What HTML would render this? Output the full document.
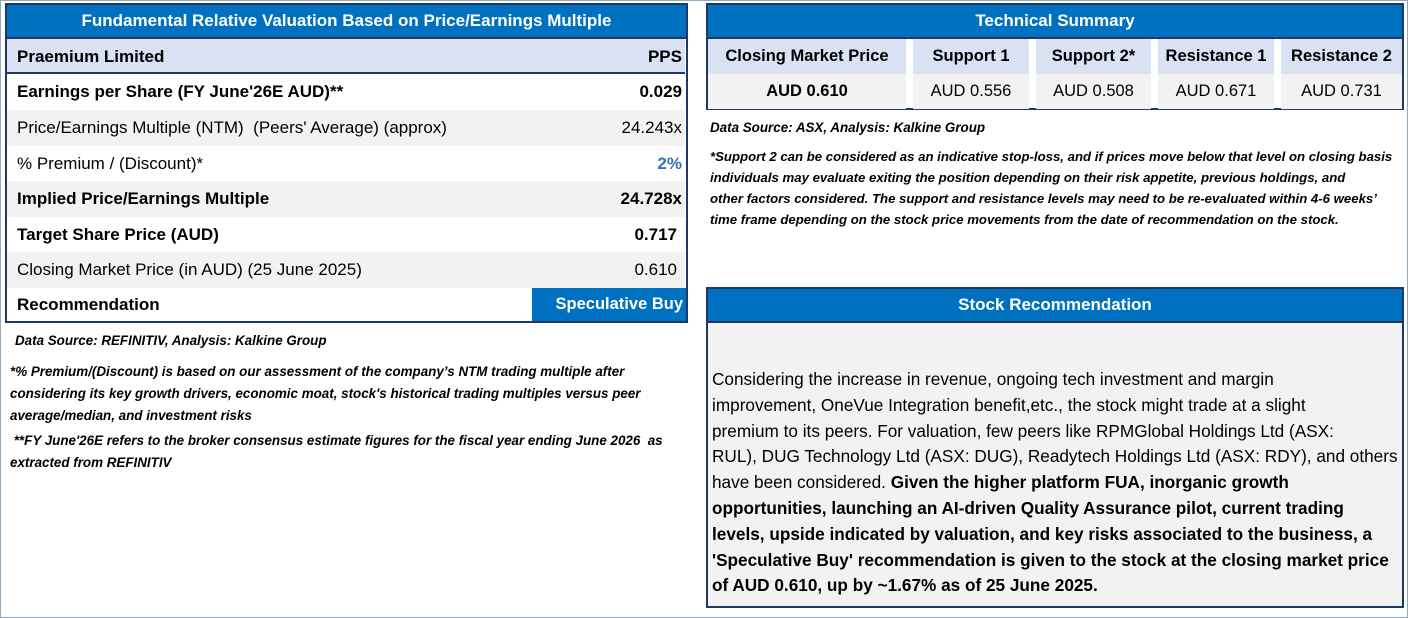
<!DOCTYPE html>
<html><head><meta charset="utf-8"><style>
*{margin:0;padding:0;box-sizing:border-box}
body{width:1408px;height:618px;background:#fff;font-family:"Liberation Sans",sans-serif;position:relative;overflow:hidden;color:#000}
.abs{position:absolute}
.frame{left:0;top:0;width:1408px;height:618px;border:1px solid #8ea9c8}
.title{background:#0070c0;color:#fff;font-weight:bold;text-align:center;border:2px solid #1f3864;font-size:17px}
.row{position:absolute;left:7px;width:678px;height:36px;font-size:17px;line-height:36px;padding:0 3px 0 10px;display:flex;justify-content:space-between;white-space:nowrap}
.b{font-weight:bold}
.note{font-style:italic;font-weight:bold;font-size:13.4px;line-height:22px;white-space:nowrap}
.cell{position:absolute;text-align:center;font-size:16.5px;height:35px;line-height:35px;white-space:nowrap}
</style></head><body>
<div class="abs frame"></div>

<div class="abs" style="left:5px;top:3px;width:683px;height:320px;border:2px solid #1f3864">
</div>
<div class="abs title" style="left:5px;top:3px;width:683px;height:36px;line-height:32px">Fundamental Relative Valuation Based on Price/Earnings Multiple</div>
<div class="row b" style="top:39px;height:35px;background:#d9e1f2;border-bottom:2px solid #1f3864"><span>Praemium Limited</span><span>PPS</span></div>
<div class="row b" style="top:74px;background:#fff"><span>Earnings per Share (FY June'26E AUD)**</span><span>0.029</span></div>
<div class="row" style="top:110px;background:#f2f2f2"><span>Price/Earnings Multiple (NTM)&nbsp; (Peers' Average) (approx)</span><span>24.243x</span></div>
<div class="row" style="top:146px;background:#fff"><span>% Premium / (Discount)*</span><span class="b" style="color:#2e75b6">2%</span></div>
<div class="row b" style="top:181px;background:#f2f2f2"><span>Implied Price/Earnings Multiple</span><span>24.728x</span></div>
<div class="row b" style="top:217px;background:#fff"><span>Target Share Price (AUD)</span><span style="padding-right:5px">0.717</span></div>
<div class="row" style="top:252px;background:#f2f2f2"><span>Closing Market Price (in AUD) (25 June 2025)</span><span style="padding-right:5px">0.610</span></div>
<div class="row b" style="top:288px;height:33px;line-height:33px;background:#fff"><span>Recommendation</span></div>
<div class="abs b" style="left:532px;top:288px;width:154px;height:33px;line-height:33px;background:#0070c0;color:#fff;font-size:16.5px;text-align:right;padding-right:3px;white-space:nowrap">Speculative Buy</div>

<div class="abs note" style="left:15px;top:330px">Data Source: REFINITIV, Analysis: Kalkine Group</div>
<div class="abs note" style="left:10px;top:361px">*% Premium/(Discount) is based on our assessment of the company’s NTM trading multiple after<br>considering its key growth drivers, economic moat, stock's historical trading multiples versus peer<br>average/median, and investment risks</div>
<div class="abs note" style="left:10px;top:430px">&nbsp;**FY June'26E refers to the broker consensus estimate figures for the fiscal year ending June 2026&nbsp; as<br>extracted from REFINITIV</div>

<div class="abs" style="left:706px;top:3px;width:698px;height:107px;border:2px solid #1f3864;background:#fff"></div>
<div class="abs title" style="left:706px;top:3px;width:698px;height:36px;line-height:32px">Technical Summary</div>
<div class="cell b" style="left:708px;top:39px;width:198px;background:#d9e1f2">Closing Market Price</div>
<div class="cell b" style="left:913px;top:39px;width:116px;background:#d9e1f2">Support 1</div>
<div class="cell b" style="left:1036px;top:39px;width:115px;background:#d9e1f2">Support 2*</div>
<div class="cell b" style="left:1158px;top:39px;width:116px;background:#d9e1f2">Resistance 1</div>
<div class="cell b" style="left:1281px;top:39px;width:121px;background:#d9e1f2">Resistance 2</div>
<div class="cell b" style="left:708px;top:74px;width:198px;background:#f2f2f2">AUD 0.610</div>
<div class="cell" style="left:913px;top:74px;width:116px;background:#f2f2f2">AUD 0.556</div>
<div class="cell" style="left:1036px;top:74px;width:115px;background:#f2f2f2">AUD 0.508</div>
<div class="cell" style="left:1158px;top:74px;width:116px;background:#f2f2f2">AUD 0.671</div>
<div class="cell" style="left:1281px;top:74px;width:121px;background:#f2f2f2">AUD 0.731</div>

<div class="abs note" style="left:710px;top:117px">Data Source: ASX, Analysis: Kalkine Group</div>
<div class="abs note" style="left:710px;top:146px;line-height:21px;font-size:13.2px">*Support 2 can be considered as an indicative stop-loss, and if prices move below that level on closing basis<br>individuals may evaluate exiting the position depending on their risk appetite, previous holdings, and<br>other factors considered. The support and resistance levels may need to be re-evaluated within 4-6 weeks’<br>time frame depending on the stock price movements from the date of recommendation on the stock.</div>

<div class="abs" style="left:706px;top:287px;width:698px;height:321px;border:2px solid #1f3864;background:#f2f2f2"></div>
<div class="abs title" style="left:706px;top:287px;width:698px;height:36px;line-height:32px">Stock Recommendation</div>
<div class="abs" style="left:712px;top:367px;font-size:17.2px;line-height:25.8px;white-space:nowrap">Considering the increase in revenue, ongoing tech investment and margin<br>improvement, OneVue Integration benefit,etc., the stock might trade at a slight<br>premium to its peers. For valuation, few peers like RPMGlobal Holdings Ltd (ASX:<br>RUL), DUG Technology Ltd (ASX: DUG), Readytech Holdings Ltd (ASX: RDY), and others<br>have been considered. <b>Given the higher platform FUA, inorganic growth<br>opportunities, launching an AI-driven Quality Assurance pilot, current trading<br>levels, upside indicated by valuation, and key risks associated to the business, a<br>'Speculative Buy' recommendation is given to the stock at the closing market price<br>of AUD 0.610, up by ~1.67% as of 25 June 2025.</b></div>
</body></html>
